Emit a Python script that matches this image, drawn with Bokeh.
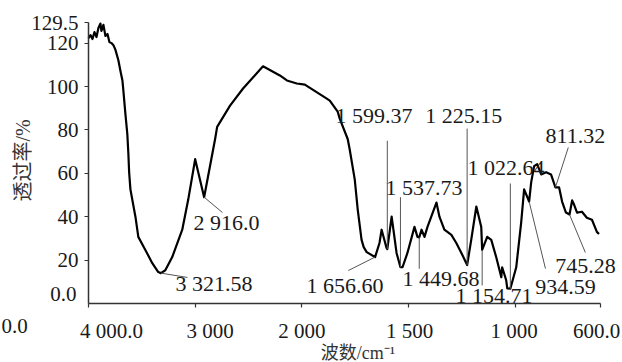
import math
from bokeh.plotting import figure
from bokeh.models import Range1d, FixedTicker, Label, LinearAxis
from bokeh.embed import file_html
from bokeh.resources import INLINE

# ---------------- data ----------------
wavenumber = [4000, 3981, 3963, 3944, 3925, 3907, 3888, 3879, 3860, 3841, 3822, 3804,
              3785, 3766, 3748, 3720, 3700, 3682, 3673, 3654, 3636, 3626, 3619, 3607,
              3560, 3533, 3467, 3402, 3346, 3321.58, 3280, 3215, 3121, 3065, 3000,
              2916, 2813, 2794, 2673, 2551, 2364, 2206, 2140, 2047, 1986, 1883, 1869,
              1832, 1822, 1785, 1776, 1752, 1738, 1720, 1710, 1696, 1656.6, 1636, 1626,
              1603, 1599.37, 1579, 1575, 1556, 1537.73, 1528, 1505, 1472, 1458, 1449.68,
              1439, 1425, 1411, 1369, 1355, 1332, 1299, 1276, 1252, 1225.15, 1206, 1182,
              1159, 1154.71, 1131, 1112, 1089, 1065, 1061, 1042, 1037, 1022.64, 995, 972,
              958, 934.59, 925, 911, 897, 878, 855, 832, 811.32, 794, 780, 762, 745.28,
              733, 724, 710, 687, 664, 640, 617, 607]
transmittance = [122.3, 123.7, 121.9, 125.1, 122.8, 127.0, 129.0, 125.6, 128.4, 123.3, 124.2, 120.5,
                 120.0, 119.0, 117.0, 112.1, 107.0, 102.8, 98.1, 87.4, 78.1, 68.8, 60.5, 52.6,
                 40.0, 30.7, 24.7, 18.6, 14.5, 14.0, 15.3, 21.4, 34.0, 47.9, 66.5,
                 49.0, 75.8, 81.4, 91.2, 99.1, 109.3, 105.1, 102.8, 101.4, 100.9, 94.4, 93.5,
                 88.4, 85.1, 75.8, 71.2, 57.2, 43.3, 29.3, 26.0, 23.7, 21.4, 27.9, 34.0,
                 25.6, 25.1, 40.0, 37.2, 23.3, 16.7, 16.7, 23.3, 35.3, 30.7, 30.5,
                 34.0, 30.7, 35.3, 46.5, 40.0, 34.0, 31.6, 27.9, 23.3, 17.7, 29.3, 44.7,
                 35.3, 24.7, 30.7, 29.3, 21.4, 12.1, 16.7, 10.7, 7.0, 6.8, 16.7, 37.2,
                 52.6, 47.0, 55.8, 63.3, 64.2, 59.5, 60.5, 59.5, 53.5, 53.5, 47.0, 41.9, 41.0,
                 47.5, 45.6, 41.9, 42.3, 39.5, 38.6, 33.0, 32.0]

peak_wn = [3321.58, 2916.0, 1656.60, 1599.37, 1537.73, 1449.68, 1225.15, 1154.71,
           1022.64, 934.59, 811.32, 745.28]
peak_t = [14.0, 49.0, 21.4, 25.1, 16.7, 30.5, 17.7, 24.7, 6.8, 47.0, 53.5, 41.0]
peak_labels = ["3 321.58", "2 916.0", "1 656.60", "1 599.37", "1 537.73", "1 449.68",
               "1 225.15", "1 154.71", "1 022.64", "934.59", "811.32", "745.28"]

x_ticks = [4000, 3000, 2000, 1500, 1000, 600]
x_tick_labels = ["4 000.0", "3 000", "2 000", "1 500", "1 000", "600.0"]
y_ticks = [20, 40, 60, 80, 100, 120, 129.5]
y_tick_labels = ["20", "40", "60", "80", "100", "120", "129.5"]
y_zero_label = "0.0"
edge_fragment = "0.0"          # cropped piece of a neighbouring panel's axis label
y_min, y_max = 0.0, 129.5
x_title = "波数/cm⁻¹"
y_title = "透过率/%"

# ---------------- layout ----------------
W, H = 622, 362
FRAME_L, FRAME_R, FRAME_T, FRAME_B = 88, 600, 22, 303   # pixel box of the axes

# peak label anchors (wavenumber, transmittance) and leader style
label_layout = {
    "3 321.58": (3185, 9.2, "diag", 3072, 12.0),
    "2 916.0": (3016, 37.3, "diag", 2744, 41.9),
    "1 656.60": (1978, 8.3, "diag", 1782, 15.2),
    "1 599.37": (1842, 86.6, "vtop", None, 75.0),
    "1 537.73": (1608, 53.5, "vtop", None, 49.0),
    "1 449.68": (1528, 11.5, "vbot", None, 16.0),
    "1 225.15": (1421, 86.6, "vtop", None, 80.6),
    "1 154.71": (1280, 3.7, "vbot", None, 8.3),
    "1 022.64": (1224, 62.7, "vtop", None, 55.3),
    "934.59": (906, 7.4, "diag", 858, 16.1),
    "811.32": (858, 77.4, "diag", 751, 71.9),
    "745.28": (812, 17.5, "diag", 671, 23.5),
}
# x tick label pixel offsets (align, dx)
x_tick_label_pos = {4000: ("center", 23), 3000: ("center", 15), 2000: ("center", 0),
                    1500: ("center", 1), 1000: ("center", -1), 600: ("center", -4)}


def wn_to_x(w):
    # standard IR axis: scale doubles below 2000 cm-1
    if w >= 2000:
        return 4000 - w
    return 2000 + 2 * (2000 - w)


u0, u1 = wn_to_x(4000), wn_to_x(600)
kx = (FRAME_R - FRAME_L) / (u1 - u0)
ky = (FRAME_B - FRAME_T) / (y_max - y_min)
x_range = Range1d(u0 - FRAME_L / kx, u1 + (W - FRAME_R) / kx)
y_range = Range1d(y_min - (H - FRAME_B) / ky, y_max + FRAME_T / ky)

FONT = "Liberation Serif"
CJK = "Liberation Serif, Noto Sans CJK SC"
TXT = "#1a1a1a"

p = figure(width=W, height=H, output_backend="svg", toolbar_location=None, title=None,
           x_range=x_range, y_range=y_range, x_axis_location=None, y_axis_location=None,
           min_border_left=0, min_border_right=0, min_border_top=0, min_border_bottom=0)
p.background_fill_color = "white"
p.border_fill_color = "white"
p.outline_line_color = None
for g in p.grid:
    g.visible = False

xs = [wn_to_x(w) for w in wavenumber]
p.line(xs, transmittance, line_color="black", line_width=2.2, line_join="round")

xaxis = LinearAxis(fixed_location=y_min, bounds=(u0, u1),
                   ticker=FixedTicker(ticks=[wn_to_x(t) for t in x_ticks]),
                   major_label_overrides={wn_to_x(t): "" for t in x_ticks})
yaxis = LinearAxis(fixed_location=u0, bounds=(y_min, y_max),
                   ticker=FixedTicker(ticks=y_ticks),
                   major_label_overrides={t: l for t, l in zip(y_ticks, y_tick_labels)})
for ax in (xaxis, yaxis):
    ax.axis_line_color = "#333333"
    ax.axis_line_width = 1.5
    ax.major_tick_line_color = "#333333"
    ax.major_tick_line_width = 1.2
    ax.major_tick_in = 0
    ax.major_tick_out = 4
    ax.minor_tick_line_color = None
    ax.major_label_text_font = FONT
    ax.major_label_text_font_size = "21px"
    ax.major_label_text_color = TXT
yaxis.major_label_standoff = 6
p.add_layout(xaxis, "below")
p.add_layout(yaxis, "left")

# x tick labels
for t, lab in zip(x_ticks, x_tick_labels):
    align, dx = x_tick_label_pos[t]
    p.add_layout(Label(x=wn_to_x(t), y=y_min, text=lab, x_offset=dx, y_offset=-27,
                       text_align=align, text_baseline="middle", text_font=FONT,
                       text_font_size="21px", text_color=TXT))

# "0.0" y label sits slightly above the origin
p.add_layout(Label(x=u0, y=y_min, text=y_zero_label, x_offset=-12, y_offset=10,
                   text_align="right", text_baseline="middle", text_font=FONT,
                   text_font_size="21px", text_color=TXT))
# fragment at the left edge
p.add_layout(Label(x=u0, y=y_min, text=edge_fragment, x_offset=-87, y_offset=-22,
                   text_align="left", text_baseline="middle", text_font=FONT,
                   text_font_size="21px", text_color=TXT))

# axis titles
p.add_layout(Label(x=u0, y=65.9, text=y_title, x_offset=-66, angle=math.pi / 2,
                   text_align="center", text_baseline="middle",
                   text_font=CJK, text_font_size="20px", text_color="#333333"))
p.add_layout(Label(x=wn_to_x(2000), y=y_min, text=x_title, x_offset=56, y_offset=-49,
                   text_align="center", text_baseline="middle",
                   text_font=CJK, text_font_size="18px", text_color="#333333"))

# peak annotations
lx0, ly0, lx1, ly1 = [], [], [], []
for w, t, lab in zip(peak_wn, peak_t, peak_labels):
    tx, ty, kind, ex, ey = label_layout[lab]
    p.add_layout(Label(x=wn_to_x(tx), y=ty, text=lab, text_align="left",
                       text_baseline="middle", text_font=FONT, text_font_size="22px",
                       text_color=TXT))
    if kind == "diag":
        lx0.append(wn_to_x(w)); ly0.append(t); lx1.append(wn_to_x(ex)); ly1.append(ey)
    elif kind == "vtop":
        lx0.append(wn_to_x(w)); ly0.append(ey); lx1.append(wn_to_x(w)); ly1.append(t)
    else:
        lx0.append(wn_to_x(w)); ly0.append(t); lx1.append(wn_to_x(w)); ly1.append(ey)

p.segment(lx0, ly0, lx1, ly1, line_color="#555555", line_width=1)

open("out.html", "w").write(file_html(p, INLINE))
